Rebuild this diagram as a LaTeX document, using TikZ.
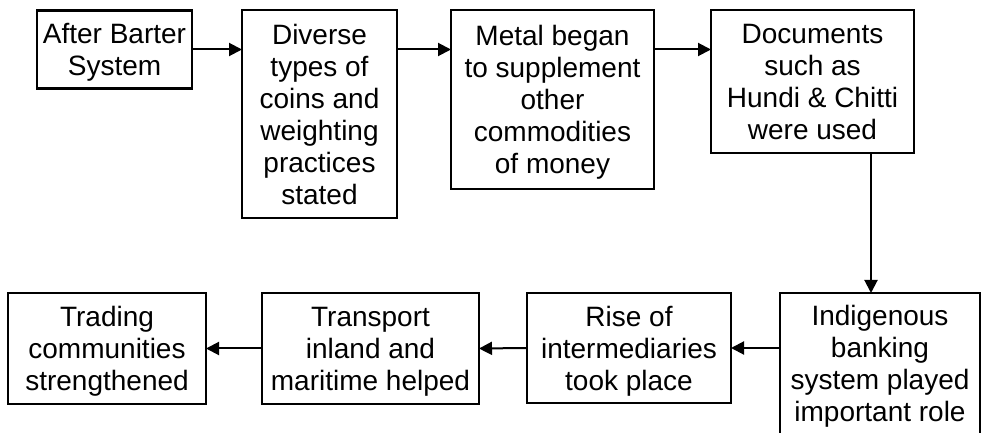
\documentclass[tikz,border=0pt]{standalone}
\usepackage{fontspec}
\setmainfont{Liberation Sans}
\usetikzlibrary{arrows.meta}

\tikzset{
  box/.style={draw, line width=1.1pt, align=center, inner sep=0pt, outer sep=0pt,
    text depth=0pt, font=\fontsize{14}{16}\selectfont},
  arr/.style={-{Triangle[length=6.5pt,width=6.5pt]}, line width=1pt}
}

\begin{document}
\begin{tikzpicture}[x=0.5pt,y=-0.5pt]
\useasboundingbox (0,0) rectangle (982,433);
\clip (0,0) rectangle (982,433);

% top row
\node[box, minimum width=77.5pt, minimum height=39pt] (barter) at (114.5,49.5) {After Barter\\System};
\node[box, minimum width=77.5pt, minimum height=104pt] (coins) at (319.5,114) {Diverse\\types of\\coins and\\weighting\\practices\\stated};
\node[box, minimum width=101.5pt, minimum height=89.5pt] (metal) at (552.5,99.5) {Metal began\\to supplement\\other\\commodities\\of money};
\node[box, minimum width=101.5pt, minimum height=71.5pt] (hundi) at (812.5,81.5) {Documents\\such as\\Hundi \& Chitti\\were used};

% bottom row
\node[box, minimum width=100pt, minimum height=70.5pt] (bank) at (880,363.5) {Indigenous\\banking\\system played\\important role};
\node[box, minimum width=102pt, minimum height=55pt] (rise) at (629,348) {Rise of\\intermediaries\\took place};
\node[box, minimum width=108.5pt, minimum height=55.5pt] (transport) at (370.5,348.5) {Transport\\inland and\\maritime helped};
\node[box, minimum width=99pt, minimum height=55.5pt] (trade) at (107,348.5) {Trading\\communities\\strengthened};

\draw[arr] (barter.east) -- (barter.east -| coins.west);
\draw[arr] (coins.east |- barter.east) -- (metal.west |- barter.east);
\draw[arr] (metal.east |- barter.east) -- (hundi.west |- barter.east);
\draw[arr] ([xshift=-21.5pt]hundi.south east) -- ([xshift=-21.5pt]hundi.south east |- bank.north);
\draw[arr] (bank.west |- rise.east) -- (rise.east);
\draw[arr] (rise.west) -- (transport.east);
\draw[arr] (transport.west) -- (trade.east);

\end{tikzpicture}
\end{document}
